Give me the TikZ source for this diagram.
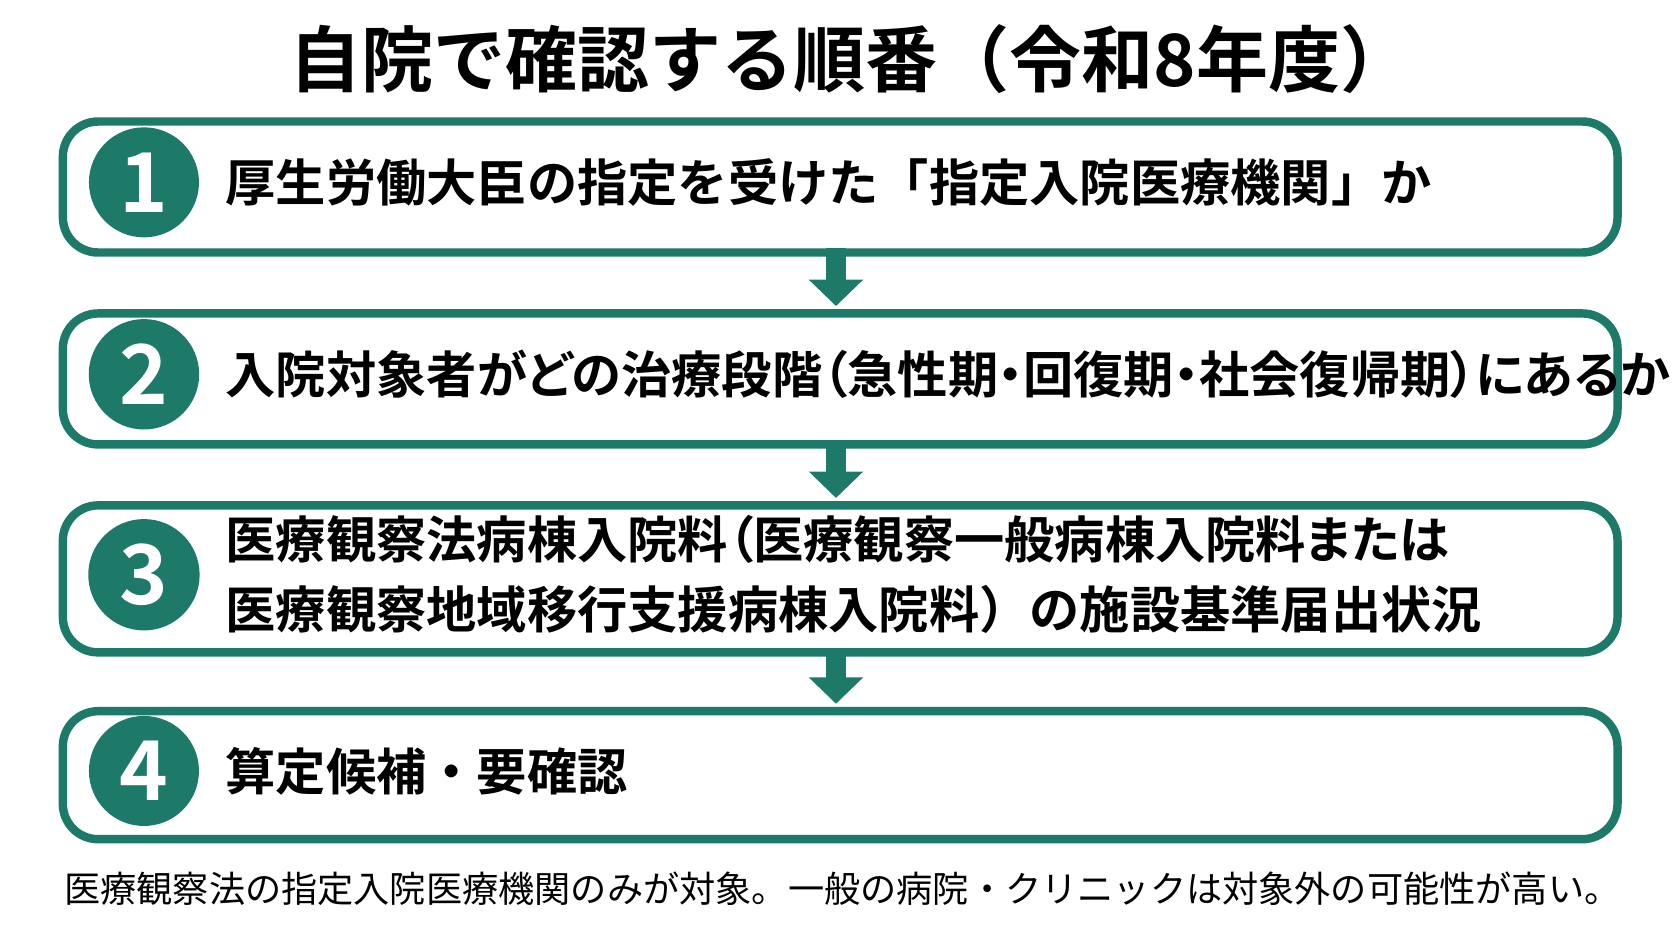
\documentclass[tikz,border=0pt]{standalone}
\usepackage{fontspec}
\setmainfont{Noto Sans CJK JP}[BoldFont=* Bold]
\usetikzlibrary{positioning,arrows.meta}
\definecolor{stepteal}{HTML}{1E7A68}
\tikzset{
  stepbox/.style={draw=stepteal,line width=2.4pt,rounded corners=10pt,minimum width=15.55cm,anchor=north west},
  num/.style={circle,fill=stepteal,minimum size=0.85cm,text=white,font=\bfseries\fontsize{23.5}{23.5}\selectfont},
  txt/.style={anchor=west,align=left,font=\bfseries\fontsize{14.3}{20}\selectfont},
  flow/.style={stepteal,line width=5.9pt,-{Triangle[width=15pt,length=7.5pt]}}
}
\begin{document}
\begin{tikzpicture}[x=0.010663cm,y=-0.010663cm]
\useasboundingbox (0,0) rectangle (1568,882.5);
%\draw[step=50,gray,very thin] (0,0) grid (1568,882);
\node[font=\bfseries\fontsize{20.5}{20.5}\selectfont] (title) at (798,55) {自院で確認する順番（令和8年度）};
\node[stepbox,minimum height=1.31cm] (b1) at (55,110) {};
\node[stepbox,minimum height=1.31cm] (b2) at (55,290) {};
\node[stepbox,minimum height=1.47cm] (b3) at (55,470) {};
\node[stepbox,minimum height=1.28cm] (b4) at (55,663) {};
\node[num] (n1) at (135,171) {1};
\node[num] (n2) at (135,351) {2};
\node[num] (n3) at (135,539) {3};
\node[num] (n4) at (135,723) {4};
\node[txt] (t1) at (200,171) {厚生労働大臣の指定を受けた「指定入院医療機関」か};
\node[txt] (t2) at (200,351) {\addfontfeature{RawFeature=+palt}入院対象者がどの治療段階（急性期・回復期・社会復帰期）にあるか};
\node[txt] (t3) at (200,539) {\addfontfeature{RawFeature=+palt}医療観察法病棟入院料（医療観察一般病棟入院料または\\医療観察地域移行支援病棟入院料）の施設基準届出状況};
\node[txt] (t4) at (200,723) {算定候補・要確認};
\draw[flow] (784,233) -- (784,287);
\draw[flow] (784,413) -- (784,467);
\draw[flow] (784,608) -- (784,660);
\node[font=\fontsize{10.3}{12}\selectfont] (note) at (790,833) {医療観察法の指定入院医療機関のみが対象。一般の病院・クリニックは対象外の可能性が高い。};
\end{tikzpicture}
\end{document}
